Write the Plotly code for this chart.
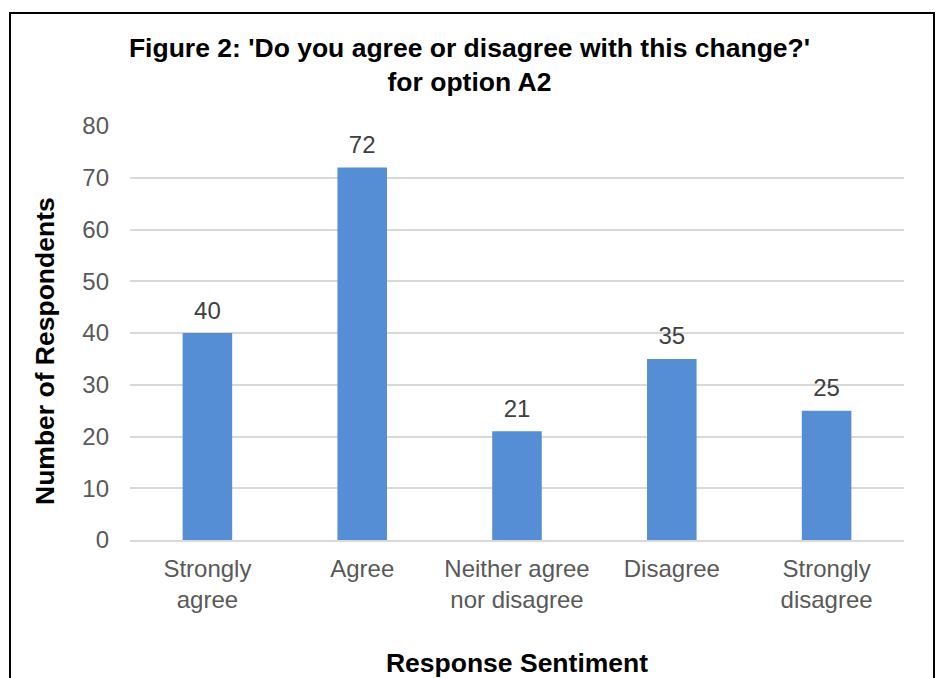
import plotly.graph_objects as go

categories = ["Strongly<br>agree", "Agree", "Neither agree<br>nor disagree", "Disagree", "Strongly<br>disagree"]
values = [40, 72, 21, 35, 25]
y_ticks = [0, 10, 20, 30, 40, 50, 60, 70, 80]

W, H = 939, 678
L, R, T, B = 130, 35, 126, 138
pw, ph = W - L - R, H - T - B

def px_x(x):
    return (x - L) / pw

def px_y(y):
    return (H - B - y) / ph

FONT = "Liberation Sans, Arial, sans-serif"

fig = go.Figure()
fig.add_trace(go.Bar(
    x=categories, y=values, width=0.32,
    marker=dict(color="#558ED5", line=dict(width=0)),
    hoverinfo="skip",
))
fig.add_trace(go.Scatter(
    x=categories, y=values, mode="markers+text",
    marker=dict(size=12, color="rgba(0,0,0,0)"),
    text=[str(v) for v in values], textposition="top center",
    textfont=dict(family=FONT, size=24, color="#404040"),
    cliponaxis=False,
))

fig.update_layout(
    width=W, height=H,
    margin=dict(l=L, r=R, t=T, b=B),
    paper_bgcolor="white", plot_bgcolor="white",
    showlegend=False,
    title=dict(
        text="<b>Figure 2: 'Do you agree or disagree with this change?'<br>for option A2</b>",
        x=0.5, xref="container", xanchor="center",
        y=1 - 57 / H, yref="container", yanchor="top",
        font=dict(family=FONT, size=26.5, color="black"),
    ),
    font=dict(family=FONT),
    shapes=[dict(
        type="rect", xref="paper", yref="paper",
        x0=px_x(10), x1=px_x(934), y0=px_y(700), y1=px_y(13),
        line=dict(color="black", width=2), fillcolor="rgba(0,0,0,0)", layer="below",
    )],
    annotations=[dict(
        text="<b>Number of Respondents</b>", textangle=-90,
        xref="paper", yref="paper", x=px_x(45), y=px_y(351),
        xanchor="center", yanchor="middle", showarrow=False,
        font=dict(family=FONT, size=26.5, color="black"),
    )],
)

fig.update_yaxes(
    range=[0, 80], tickvals=y_ticks, showgrid=True, gridcolor="#D9D9D9", gridwidth=1.5,
    zeroline=False, showline=False, ticklabelstandoff=20, automargin=False,
    tickfont=dict(family=FONT, size=24, color="#595959"),
)
fig.update_xaxes(
    showline=True, linecolor="#D9D9D9", linewidth=2, showgrid=False,
    ticklabelstandoff=6, automargin=False,
    tickfont=dict(family=FONT, size=24, color="#595959"),
    title=dict(text="<b>Response Sentiment</b>", standoff=44,
               font=dict(family=FONT, size=26.5, color="black")),
)

fig.write_html("out.html")
